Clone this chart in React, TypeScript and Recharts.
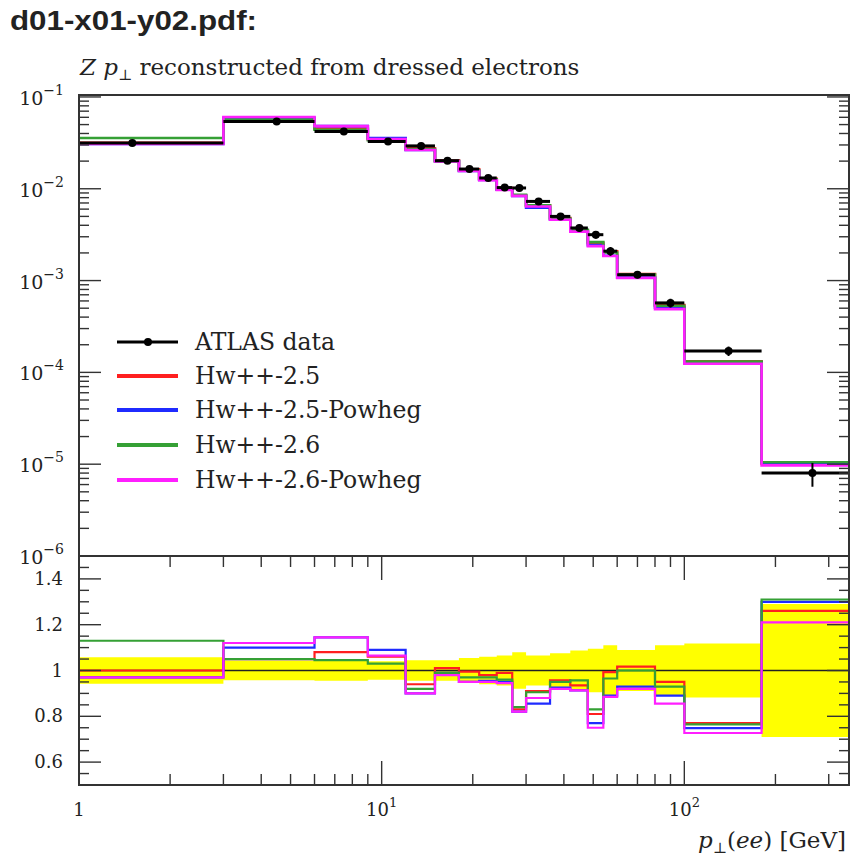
import React from "react";
import { ComposedChart, Line, Scatter, ErrorBar, Area, XAxis, YAxis, ReferenceLine } from "recharts";

// bin edges in pT(ee) [GeV]; the first bin starts at 0, below the log axis
const binEdges = [0, 3, 6, 9, 12, 15, 18, 21, 24, 27, 30, 36, 42, 48, 54, 60, 80, 100, 180, 350];
const xAxisRange = [1, 350];

// ATLAS data (dsigma/dpT) and relative uncertainty
const atlasData = [0.0316, 0.054, 0.042, 0.0327, 0.0293, 0.0202, 0.0164, 0.0131, 0.0103, 0.0102, 0.00728, 0.005, 0.00374, 0.00316, 0.00209, 0.00116, 0.000571, 0.000171, 8.0e-6];
const atlasRelErr = [0.058, 0.043, 0.045, 0.04, 0.045, 0.045, 0.055, 0.06, 0.065, 0.08, 0.065, 0.075, 0.087, 0.095, 0.11, 0.09, 0.11, 0.118, 0.29];

// MC predictions
const hw25 = [0.0316, 0.0567, 0.0454, 0.0347, 0.0275, 0.0204, 0.0163, 0.0128, 0.0102, 0.00847, 0.00662, 0.00479, 0.0035, 0.00256, 0.00208, 0.00118, 0.000542, 0.000132, 1.01e-5];
const hw25Powheg = [0.0307, 0.0594, 0.0481, 0.0356, 0.0264, 0.02, 0.0156, 0.0125, 0.00979, 0.00836, 0.00622, 0.00463, 0.00341, 0.00243, 0.00186, 0.00108, 0.000508, 0.000128, 1.04e-5];
const hw26 = [0.0357, 0.0567, 0.0439, 0.0337, 0.027, 0.02, 0.0159, 0.0127, 0.00989, 0.00857, 0.00659, 0.00475, 0.00358, 0.00262, 0.00202, 0.00116, 0.000531, 0.000131, 1.05e-5];
const hw26Powheg = [0.0307, 0.0605, 0.0481, 0.0348, 0.0264, 0.0198, 0.0156, 0.0124, 0.00973, 0.00836, 0.00641, 0.0046, 0.00341, 0.00237, 0.00185, 0.00107, 0.000488, 0.000124, 9.7e-6];

// MC / data ratios
const ratio25 = [1.0, 1.05, 1.08, 1.06, 0.94, 1.01, 0.995, 0.98, 0.99, 0.83, 0.91, 0.957, 0.935, 0.81, 0.993, 1.017, 0.95, 0.77, 1.26];
const ratio25Powheg = [0.97, 1.1, 1.145, 1.09, 0.9, 0.99, 0.95, 0.955, 0.95, 0.82, 0.855, 0.925, 0.913, 0.77, 0.89, 0.93, 0.89, 0.748, 1.3];
const ratio26 = [1.13, 1.05, 1.045, 1.03, 0.92, 0.99, 0.97, 0.97, 0.96, 0.84, 0.905, 0.95, 0.957, 0.83, 0.965, 1.0, 0.93, 0.765, 1.31];
const ratio26Powheg = [0.97, 1.12, 1.145, 1.065, 0.9, 0.98, 0.95, 0.95, 0.945, 0.82, 0.88, 0.92, 0.913, 0.75, 0.885, 0.92, 0.855, 0.727, 1.21];

const seriesNames = ["ATLAS data", "Hw++-2.5", "Hw++-2.5-Powheg", "Hw++-2.6", "Hw++-2.6-Powheg"];
const seriesColors = ["#000000", "#ff1f1f", "#1f2bff", "#35a035", "#ff1fff"];
const mcKeys = ["hw25", "hw25Powheg", "hw26", "hw26Powheg"];

// ticks
const xMajorTicks = [1, 10, 100];
const xMajorLabels = ["1", "10", "10"];
const xMajorExps = ["", "1", "2"];
const xMinorTicks = [2, 3, 4, 5, 6, 7, 8, 9, 20, 30, 40, 50, 60, 70, 80, 90, 200, 300];
const yMajorTicks = [1e-6, 1e-5, 1e-4, 1e-3, 1e-2, 1e-1];
const yMajorExps = ["6", "5", "4", "3", "2", "1"];
const yMinorMult = [2, 3, 4, 5, 6, 7, 8, 9];
const ratioMajorTicks = [0.6, 0.8, 1, 1.2, 1.4];
const ratioMinorTicks = [0.55, 0.65, 0.7, 0.75, 0.85, 0.9, 0.95, 1.05, 1.1, 1.15, 1.25, 1.3, 1.35, 1.45];

const W = 862;
const PL = 79;
const PR = 849;
const UP_T = 95;
const UP_B = 556;
const UP_H = 580;
const LO_TOP = 540; // lower chart container top
const LO_T = 16;
const LO_B = 245;
const FRAME = "#333";
const SERIF = "'DejaVu Serif', serif";

const yTicks = [...yMajorTicks, ...yMajorTicks.slice(0, 5).flatMap((d) => yMinorMult.map((m) => m * d))];
const xTicks = [...xMajorTicks, ...xMinorTicks];
const ratioTicks = [...ratioMajorTicks, ...ratioMinorTicks];

const mcValues = [hw25, hw25Powheg, hw26, hw26Powheg];
const mcRatios = [ratio25, ratio25Powheg, ratio26, ratio26Powheg];

// histogram rows start where the log axis starts
const stepRows = binEdges.map((edge, i) => {
  const k = Math.min(i, atlasData.length - 1);
  const row: any = { x: Math.max(edge, xAxisRange[0]) };
  mcKeys.forEach((key, j) => (row[key] = mcValues[j][k]));
  return row;
});

const ratioRows = binEdges.map((edge, i) => {
  const k = Math.min(i, atlasData.length - 1);
  const row: any = { x: Math.max(edge, xAxisRange[0]), band: [1 - atlasRelErr[k], 1 + atlasRelErr[k]] };
  mcKeys.forEach((key, j) => (row[key] = mcRatios[j][k]));
  return row;
});

const dataPoints = atlasData.map((v, i) => {
  const lo = binEdges[i];
  const hi = binEdges[i + 1];
  const c = (lo + hi) / 2;
  return { x: c, y: v, ex: [c - Math.max(lo, xAxisRange[0]), hi - c], ey: v * atlasRelErr[i] };
});

const UpperYTick = (props: any) => {
  const { y, payload } = props;
  const idx = yMajorTicks.indexOf(payload.value);
  const len = idx >= 0 ? 22 : 10;
  return (
    <g>
      <line x1={PL} x2={PL + len} y1={y} y2={y} stroke={FRAME} strokeWidth={1.4} />
      <line x1={PR} x2={PR - len} y1={y} y2={y} stroke={FRAME} strokeWidth={1.4} />
      {idx >= 0 && (
        <text x={64} y={y + 8} textAnchor="end" fontFamily={SERIF} fontSize={19} fill="#222">
          10<tspan dy={-10} fontSize={14}>−{yMajorExps[idx]}</tspan>
        </text>
      )}
    </g>
  );
};

const UpperXTick = (props: any) => {
  const { x, payload } = props;
  const len = xMajorTicks.indexOf(payload.value) >= 0 ? 24 : 11;
  return (
    <g>
      <line x1={x} x2={x} y1={UP_B} y2={UP_B - len} stroke={FRAME} strokeWidth={1.4} />
      <line x1={x} x2={x} y1={UP_T} y2={UP_T + len} stroke={FRAME} strokeWidth={1.4} />
    </g>
  );
};

const LowerXTick = (props: any) => {
  const { x, payload } = props;
  const idx = xMajorTicks.indexOf(payload.value);
  const len = idx >= 0 ? 24 : 11;
  return (
    <g>
      <line x1={x} x2={x} y1={LO_B} y2={LO_B - len} stroke={FRAME} strokeWidth={1.4} />
      <line x1={x} x2={x} y1={LO_T} y2={LO_T + len} stroke={FRAME} strokeWidth={1.4} />
      {idx >= 0 && (
        <text x={x} y={LO_B + 31} textAnchor="middle" fontFamily={SERIF} fontSize={18} fill="#222">
          {xMajorLabels[idx]}
          {xMajorExps[idx] && <tspan dy={-9} fontSize={13}>{xMajorExps[idx]}</tspan>}
        </text>
      )}
    </g>
  );
};

const LowerYTick = (props: any) => {
  const { y, payload } = props;
  const major = ratioMajorTicks.indexOf(payload.value) >= 0;
  const len = major ? 22 : 10;
  return (
    <g>
      <line x1={PL} x2={PL + len} y1={y} y2={y} stroke={FRAME} strokeWidth={1.4} />
      <line x1={PR} x2={PR - len} y1={y} y2={y} stroke={FRAME} strokeWidth={1.4} />
      {major && (
        <text x={63} y={y + 6} textAnchor="end" fontFamily={SERIF} fontSize={18} fill="#222">
          {String(payload.value)}
        </text>
      )}
    </g>
  );
};

const frameStyle = (top: number, height: number): React.CSSProperties => ({
  position: "absolute",
  left: PL - 1,
  top: top - 1,
  width: PR - PL + 2,
  height: height + 2,
  border: `2px solid ${FRAME}`,
  boxSizing: "border-box",
  pointerEvents: "none",
});

const legendCenters = [342, 376, 410, 445, 480];

const App = () => {
  return (
    <div style={{ position: "absolute", left: 0, top: 0, width: W, height: 860, background: "#fff" }}>
      <div style={{ position: "absolute", left: 0, top: LO_TOP }}>
        <ComposedChart width={W} height={320} data={ratioRows} margin={{ top: LO_T, right: W - PR, bottom: 40, left: 0 }}>
          <XAxis dataKey="x" type="number" scale="log" domain={xAxisRange} allowDataOverflow ticks={xTicks} interval={0} height={35} axisLine={false} tickLine={false} tick={<LowerXTick />} />
          <YAxis type="number" domain={[0.5, 1.5]} allowDataOverflow ticks={ratioTicks} interval={0} width={PL} axisLine={false} tickLine={false} tick={<LowerYTick />} />
          <Area dataKey="band" type="stepAfter" fill="#ffff00" fillOpacity={1} stroke="none" isAnimationActive={false} />
          <ReferenceLine y={1} stroke="#222" strokeWidth={1.5} />
          {mcKeys.map((key, j) => (
            <Line key={key} dataKey={key} type="stepAfter" stroke={seriesColors[j + 1]} strokeWidth={2.2} dot={false} activeDot={false} isAnimationActive={false} />
          ))}
        </ComposedChart>
      </div>
      <div style={{ position: "absolute", left: 0, top: 0 }}>
        <ComposedChart width={W} height={UP_H} data={stepRows} margin={{ top: UP_T, right: W - PR, bottom: UP_H - UP_B, left: 0 }}>
          <XAxis dataKey="x" type="number" scale="log" domain={xAxisRange} allowDataOverflow ticks={xTicks} interval={0} height={0} axisLine={false} tickLine={false} tick={<UpperXTick />} />
          <YAxis type="number" scale="log" domain={[1e-6, 0.105]} allowDataOverflow ticks={yTicks} interval={0} width={PL} axisLine={false} tickLine={false} tick={<UpperYTick />} />
          {mcKeys.map((key, j) => (
            <Line key={key} dataKey={key} type="stepAfter" stroke={seriesColors[j + 1]} strokeWidth={2.6} dot={false} activeDot={false} isAnimationActive={false} />
          ))}
          <Scatter data={dataPoints} dataKey="y" fill="#000" isAnimationActive={false} shape={(p: any) => <circle cx={p.cx} cy={p.cy} r={4} fill="#000" />}>
            <ErrorBar dataKey="ex" direction="x" width={0} stroke="#000" strokeWidth={3} isAnimationActive={false} />
            <ErrorBar dataKey="ey" direction="y" width={0} stroke="#000" strokeWidth={2} isAnimationActive={false} />
          </Scatter>
        </ComposedChart>
      </div>
      <div style={frameStyle(UP_T, UP_B - UP_T)} />
      <div style={frameStyle(LO_TOP + LO_T, LO_B - LO_T)} />
      <svg width={W} height={860} style={{ position: "absolute", left: 0, top: 0, pointerEvents: "none" }}>
        <text x={10} y={30} fontFamily="'Liberation Sans', Arial, sans-serif" fontWeight="bold" fontSize={27} fill="#222" textLength={247} lengthAdjust="spacingAndGlyphs">
          d01-x01-y02.pdf:
        </text>
        <text x={80} y={75} fontFamily={SERIF} fontSize={23} fill="#222">
          <tspan fontStyle="italic">Z p</tspan>
          <tspan fontSize={15} dy={5}>⊥</tspan>
          <tspan dy={-5}> reconstructed from dressed electrons</tspan>
        </text>
        {seriesNames.map((name, i) => (
          <g key={name}>
            <line x1={117} x2={178} y1={legendCenters[i]} y2={legendCenters[i]} stroke={seriesColors[i]} strokeWidth={i === 0 ? 3 : 4} />
            {i === 0 && <circle cx={148} cy={legendCenters[i]} r={4} fill="#000" />}
            <text x={195} y={legendCenters[i] + 8} fontFamily={SERIF} fontSize={23.5} fill="#222">
              {name}
            </text>
          </g>
        ))}
        <text x={846} y={848} textAnchor="end" fontFamily={SERIF} fontSize={23} fill="#222">
          <tspan fontStyle="italic">p</tspan>
          <tspan fontSize={15} dy={5}>⊥</tspan>
          <tspan dy={-5}>(</tspan>
          <tspan fontStyle="italic">ee</tspan>
          <tspan>) [GeV]</tspan>
        </text>
      </svg>
    </div>
  );
};

export default App;
